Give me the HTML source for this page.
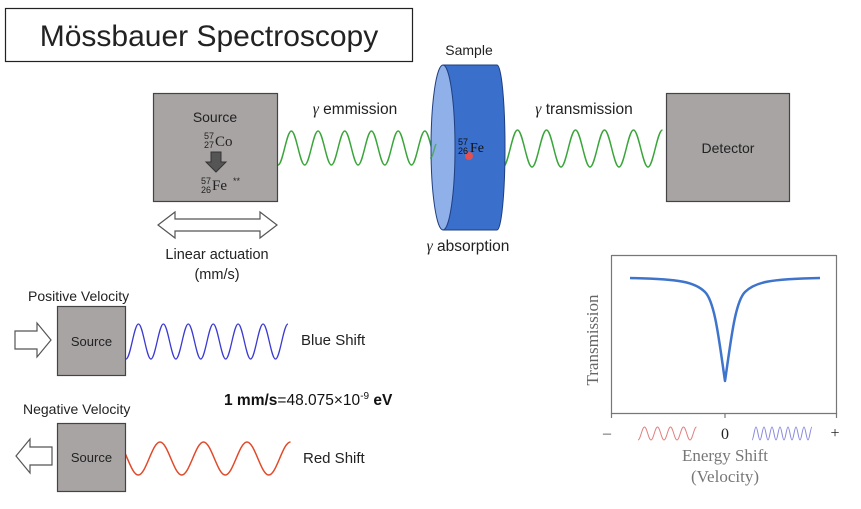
<!DOCTYPE html>
<html><head><meta charset="utf-8"><style>
html,body{margin:0;padding:0;background:#fff;}
svg{display:block;font-family:"Liberation Sans",sans-serif;}
</style></head><body>
<svg width="861" height="509" viewBox="0 0 861 509" xmlns="http://www.w3.org/2000/svg">
<rect x="0" y="0" width="861" height="509" fill="#fff"/>
<rect x="5.5" y="8.5" width="407" height="53" fill="#fff" stroke="#222" stroke-width="1.2"/>
<text x="209" y="46" font-size="30" text-anchor="middle" fill="#222">Mössbauer Spectroscopy</text>

<path d="M278 165 c4.8 0 8.5 -34 13.35 -34 s8.5 34 13.35 34 s8.5 -34 13.35 -34 s8.5 34 13.35 34 s8.5 -34 13.35 -34 s8.5 34 13.35 34 s8.5 -34 13.35 -34 s8.5 34 13.35 34 s8.5 -34 13.35 -34 s8.5 34 13.35 34 s8.5 -34 13.35 -34 s8.5 34 13.35 34 s8.5 -34 13.35 -34" fill="none" stroke="#3aa53a" stroke-width="1.5"/>
<path d="M503 167 c5.2 0 9.3 -37 14.5 -37 s9.3 37 14.5 37 s9.3 -37 14.5 -37 s9.3 37 14.5 37 s9.3 -37 14.5 -37 s9.3 37 14.5 37 s9.3 -37 14.5 -37 s9.3 37 14.5 37 s9.3 -37 14.5 -37 s9.3 37 14.5 37 s9.3 -37 14.5 -37" fill="none" stroke="#3aa53a" stroke-width="1.5"/>

<rect x="153.5" y="93.5" width="124" height="108" fill="#a8a4a4" stroke="#444" stroke-width="1.2"/>
<text x="215" y="122" font-size="14" text-anchor="middle" fill="#222">Source</text>
<text x="204" y="139" font-size="9" fill="#222">57</text>
<text x="204" y="148" font-size="9" fill="#222">27</text>
<text x="215" y="146" font-size="15" fill="#222" font-family="Liberation Serif">Co</text>
<path d="M211 152 h10 v10 h5 l-10 10 l-10 -10 h5 z" fill="#555" stroke="#333" stroke-width="1"/>
<text x="201" y="184" font-size="9" fill="#222">57</text>
<text x="201" y="193" font-size="9" fill="#222">26</text>
<text x="212" y="190" font-size="15" fill="#222" font-family="Liberation Serif">Fe</text>
<text x="233" y="184" font-size="9" fill="#222">**</text>

<path d="M158 225 l17 -13 v7 h85 v-7 l17 13 l-17 13 v-7 h-85 v7 z" fill="#fff" stroke="#555" stroke-width="1.2"/>
<text x="217" y="259" font-size="14.5" text-anchor="middle" fill="#222">Linear actuation</text>
<text x="217" y="279" font-size="14.5" text-anchor="middle" fill="#222">(mm/s)</text>
<text x="355" y="114" font-size="15.5" text-anchor="middle" fill="#222"><tspan font-family="Liberation Serif" font-style="italic">γ</tspan> emmission</text>

<path d="M443 65 H497 A8 82.5 0 0 1 497 230 H443 Z" fill="#3b6fcc" stroke="#1f3f80" stroke-width="1"/>
<ellipse cx="443" cy="147.5" rx="12" ry="82.5" fill="#8fb0e8" stroke="#1f3f80" stroke-width="1"/>
<path d="M430 158 c3 0 4 -10 6 -14" fill="none" stroke="#3aa53a" stroke-width="1.5" opacity="0.7"/>
<circle cx="469" cy="156" r="4" fill="#e25050"/>
<text x="458" y="145" font-size="9" fill="#111">57</text>
<text x="458" y="154" font-size="9" fill="#111">26</text>
<text x="470" y="152" font-size="14" fill="#111" font-family="Liberation Serif">Fe</text>
<text x="469" y="55" font-size="14" text-anchor="middle" fill="#222">Sample</text>
<text x="468" y="251" font-size="15.5" text-anchor="middle" fill="#222"><tspan font-family="Liberation Serif" font-style="italic">γ</tspan> absorption</text>
<text x="584" y="114" font-size="15.5" text-anchor="middle" fill="#222"><tspan font-family="Liberation Serif" font-style="italic">γ</tspan> transmission</text>

<rect x="666.5" y="93.5" width="123" height="108" fill="#a8a4a4" stroke="#444" stroke-width="1.2"/>
<text x="728" y="153" font-size="14" text-anchor="middle" fill="#222">Detector</text>

<text x="28" y="301" font-size="14" fill="#222">Positive Velocity</text>
<path d="M15 331 h22 v-8 l14 17 l-14 17 v-8 h-22 z" fill="#fff" stroke="#555" stroke-width="1.2"/>
<path d="M126 359 c4.5 0 8 -35 12.46 -35 s8 35 12.46 35 s8 -35 12.46 -35 s8 35 12.46 35 s8 -35 12.46 -35 s8 35 12.46 35 s8 -35 12.46 -35 s8 35 12.46 35 s8 -35 12.46 -35 s8 35 12.46 35 s8 -35 12.46 -35 s8 35 12.46 35 s8 -35 12.46 -35" fill="none" stroke="#3a3ad0" stroke-width="1.3"/>
<rect x="57.5" y="306.5" width="68" height="69" fill="#a8a4a4" stroke="#444" stroke-width="1.2"/>
<text x="91.5" y="346" font-size="13" text-anchor="middle" fill="#222">Source</text>
<text x="301" y="345" font-size="15" fill="#222">Blue Shift</text>

<text x="224" y="405" font-size="15.5" fill="#111"><tspan font-weight="bold">1 mm/s</tspan>=48.075×10<tspan font-size="10" dy="-6">-9</tspan><tspan dy="6" font-weight="bold"> eV</tspan></text>

<text x="23" y="414" font-size="14" fill="#222">Negative Velocity</text>
<path d="M52 447 h-22 v-8 l-14 17 l14 17 v-8 h22 z" fill="#fff" stroke="#555" stroke-width="1.2"/>
<path d="M116.5 442 c7.8 0 13.9 33 21.75 33 s13.9 -33 21.75 -33 s13.9 33 21.75 33 s13.9 -33 21.75 -33 s13.9 33 21.75 33 s13.9 -33 21.75 -33 s13.9 33 21.75 33 s13.9 -33 21.75 -33" fill="none" stroke="#e04a2a" stroke-width="1.5"/>
<rect x="57.5" y="423.5" width="68" height="68" fill="#a8a4a4" stroke="#444" stroke-width="1.2"/>
<text x="91.5" y="462" font-size="13" text-anchor="middle" fill="#222">Source</text>
<text x="303" y="463" font-size="15" fill="#222">Red Shift</text>

<path d="M611.5 255 V413.5 H836.5 V255 M611.5 255.5 H836.5" fill="none" stroke="#777" stroke-width="1.2"/>
<path d="M611.5 413 v5 M725 413 v5 M836.5 413 v5" stroke="#777" stroke-width="1.2"/>
<text x="598" y="340" font-size="17" fill="#666" font-family="Liberation Serif" text-anchor="middle" transform="rotate(-90 598 340)">Transmission</text>
<path d="M630 278 C680 279 695 282 705 292 C715 302 719 340 725 381 C731 340 735 302 745 292 C755 282 770 279 820 278" fill="none" stroke="#3e74cc" stroke-width="2.5" stroke-linejoin="round"/>
<text x="607" y="438" font-size="16" fill="#444" text-anchor="middle" font-family="Liberation Serif">–</text>
<text x="725" y="439" font-size="16" fill="#222" text-anchor="middle" font-family="Liberation Serif">0</text>
<text x="835" y="438" font-size="16" fill="#222" text-anchor="middle" font-family="Liberation Serif">+</text>
<path d="M638 440 c2.5 0 4 -13 6.5 -13 s4 13 6.5 13 s4 -13 6.5 -13 s4 13 6.5 13 s4 -13 6.5 -13 s4 13 6.5 13 s4 -13 6.5 -13 s4 13 6.5 13 s4 -13 6.5 -13" fill="none" stroke="#e08080" stroke-width="1"/>
<path d="M752 440 c1.5 0 2.5 -13 4 -13 s2.5 13 4 13 s2.5 -13 4 -13 s2.5 13 4 13 s2.5 -13 4 -13 s2.5 13 4 13 s2.5 -13 4 -13 s2.5 13 4 13 s2.5 -13 4 -13 s2.5 13 4 13 s2.5 -13 4 -13 s2.5 13 4 13 s2.5 -13 4 -13 s2.5 13 4 13 s2.5 -13 4 -13" fill="none" stroke="#8a8ae0" stroke-width="1"/>
<text x="725" y="461" font-size="17" fill="#777" text-anchor="middle" font-family="Liberation Serif">Energy Shift</text>
<text x="725" y="482" font-size="17" fill="#777" text-anchor="middle" font-family="Liberation Serif">(Velocity)</text>
</svg>
</body></html>
